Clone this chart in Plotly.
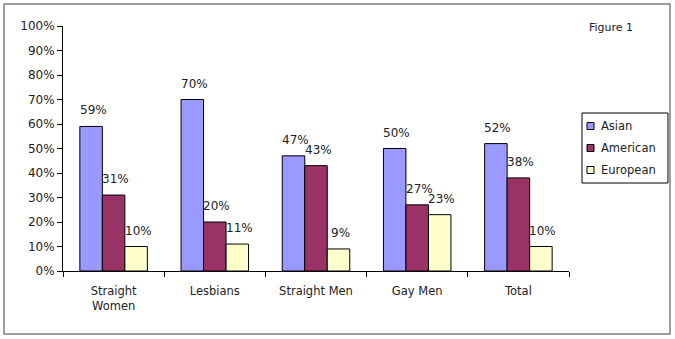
import plotly.graph_objects as go

categories = ["Straight<br>Women", "Lesbians", "Straight Men", "Gay Men", "Total"]
series_names = ["Asian", "American", "European"]
asian = [59, 70, 47, 50, 52]
american = [31, 20, 43, 27, 38]
european = [10, 11, 9, 23, 10]
y_ticks = list(range(0, 101, 10))
colors = ["#9999FF", "#993366", "#FFFFCC"]

W, H = 675, 339
ml, mr, mt, mb = 63, 106, 26, 68
pw, ph = W - ml - mr, H - mt - mb


def px_x(x):
    return (x - ml) / pw


def px_y(y):
    return (H - mb - y) / ph


FONT = "DejaVu Sans, Verdana, sans-serif"
TXT = "#222222"
fig = go.Figure()
all_series = [asian, american, european]
for name, vals, col in zip(series_names, all_series, colors):
    fig.add_trace(go.Bar(
        x=categories, y=vals, name=name,
        marker=dict(color=col, line=dict(color="#000000", width=1)),
    ))

cat_px = pw / len(categories)
bargap = 0.333
bar_px = cat_px * (1 - bargap) / 3
for si, vals in enumerate(all_series):
    for c, v in zip(categories, vals):
        fig.add_annotation(
            x=c, y=v, xref="x", yref="y", text=f"{v}%", showarrow=False,
            xshift=(si - 1) * bar_px + 2, yshift=16,
            font=dict(family=FONT, size=12, color=TXT),
        )

fig.add_annotation(
    x=px_x(587), y=px_y(27), xref="paper", yref="paper",
    text="Figure 1", showarrow=False, xanchor="left", yanchor="middle",
    font=dict(family=FONT, size=11, color=TXT),
)

# outer border
fig.add_shape(
    type="rect", xref="paper", yref="paper",
    x0=px_x(4), x1=px_x(670), y0=px_y(334), y1=px_y(4),
    line=dict(color="#808080", width=1.5), fillcolor="rgba(0,0,0,0)",
    layer="below",
)

# legend (drawn manually to match the compact original box)
fig.add_shape(
    type="rect", xref="paper", yref="paper",
    x0=px_x(582), x1=px_x(668), y0=px_y(183), y1=px_y(113),
    line=dict(color="#000000", width=1), fillcolor="white",
)
for i, (name, col) in enumerate(zip(series_names, colors)):
    cy = 126 + 22 * i
    fig.add_shape(
        type="rect", xref="paper", yref="paper",
        x0=px_x(587), x1=px_x(594), y0=px_y(cy + 3.5), y1=px_y(cy - 3.5),
        line=dict(color="#000000", width=1), fillcolor=col,
    )
    fig.add_annotation(
        x=px_x(599), y=px_y(cy), xref="paper", yref="paper",
        text=name, showarrow=False, xanchor="left", yanchor="middle",
        font=dict(family=FONT, size=11.5, color=TXT),
    )

fig.update_layout(
    width=W, height=H,
    margin=dict(l=ml, r=mr, t=mt, b=mb, pad=0),
    paper_bgcolor="white", plot_bgcolor="white",
    barmode="group", bargap=bargap, bargroupgap=0,
    font=dict(family=FONT, size=11, color=TXT),
    showlegend=False,
    xaxis=dict(
        showline=True, linecolor="#000000", linewidth=1,
        ticks="outside", ticklen=5, tickcolor="#000000", tickson="boundaries",
        ticklabelstandoff=9,
        showgrid=False, tickfont=dict(family=FONT, size=11.5, color=TXT),
    ),
    yaxis=dict(
        range=[0, 100], tickvals=y_ticks, ticktext=[f"{t}%" for t in y_ticks],
        showline=True, linecolor="#000000", linewidth=1,
        ticks="outside", ticklen=5, tickcolor="#000000",
        showgrid=False, zeroline=False,
        tickfont=dict(family=FONT, size=12, color=TXT),
    ),
)

fig.write_html("out.html")
